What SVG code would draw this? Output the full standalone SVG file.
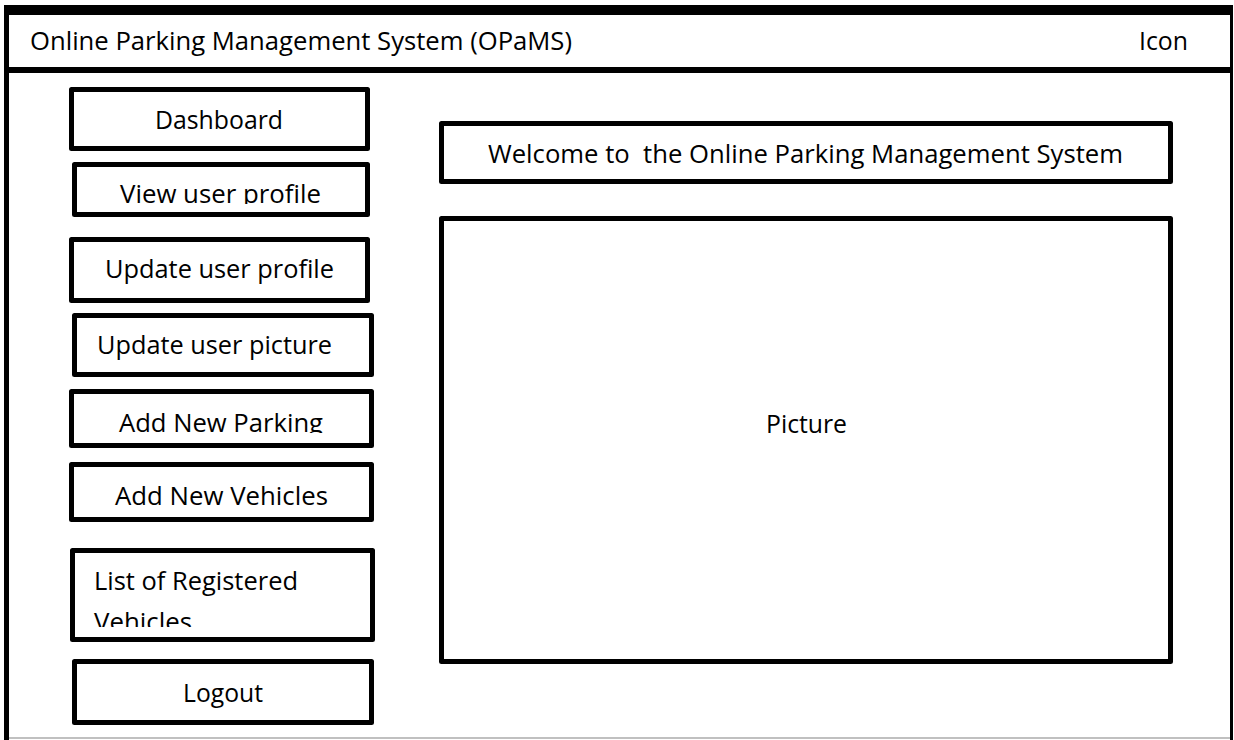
<svg xmlns="http://www.w3.org/2000/svg" width="1234" height="740" viewBox="0 0 1234 740">
<style>
.box{fill:#fff;stroke:#000;stroke-width:5;stroke-linejoin:round}
.t{font-family:"Open Sans","Noto Sans","Liberation Sans",sans-serif;font-size:25px;fill:#000;white-space:pre}
</style>
<defs>
<clipPath id="c1"><rect x="70" y="160" width="300" height="44"/></clipPath>
<clipPath id="c2"><rect x="70" y="390" width="300" height="43"/></clipPath>
<clipPath id="c3"><rect x="70" y="550" width="300" height="77"/></clipPath>
</defs>
<rect x="0" y="0" width="1234" height="740" fill="#fff"/>
<g id="frame">
<rect x="4" y="5" width="1229" height="10" fill="#000"/>
<rect x="4" y="5" width="5" height="735" fill="#000"/>
<rect x="1230" y="5" width="3" height="735" fill="#000"/>
<rect x="4" y="67" width="1229" height="6" fill="#000"/>
<rect x="9" y="737" width="1221" height="2" fill="#c0c0c0"/>
<text class="t" x="30" y="50" textLength="542" lengthAdjust="spacingAndGlyphs">Online Parking Management System (OPaMS)</text>
<text class="t" x="1139" y="50" textLength="49" lengthAdjust="spacingAndGlyphs">Icon</text>
</g>
<g id="dashboard"><rect class="box" x="71.5" y="89.5" width="296" height="59"/><text class="t" x="155" y="129" textLength="128" lengthAdjust="spacingAndGlyphs">Dashboard</text></g>
<g id="view-profile"><rect class="box" x="74.5" y="164.5" width="293" height="50"/><text class="t" x="120" y="203" clip-path="url(#c1)" textLength="201" lengthAdjust="spacingAndGlyphs">View user profile</text></g>
<g id="update-profile"><rect class="box" x="71.5" y="239.5" width="296" height="61"/><text class="t" x="105" y="278" textLength="229" lengthAdjust="spacingAndGlyphs">Update user profile</text></g>
<g id="update-picture"><rect class="box" x="74.5" y="315.5" width="297" height="59"/><text class="t" x="97" y="354" textLength="235" lengthAdjust="spacingAndGlyphs">Update user picture</text></g>
<g id="add-parking"><rect class="box" x="71.5" y="391.5" width="300" height="54"/><text class="t" x="119" y="432" clip-path="url(#c2)" textLength="204" lengthAdjust="spacingAndGlyphs">Add New Parking</text></g>
<g id="add-vehicles"><rect class="box" x="71.5" y="464.5" width="300" height="55"/><text class="t" x="115" y="505" textLength="213" lengthAdjust="spacingAndGlyphs">Add New Vehicles</text></g>
<g id="list-vehicles"><rect class="box" x="72.5" y="550.5" width="300" height="89"/><text class="t" x="94" y="590" textLength="204" lengthAdjust="spacingAndGlyphs">List of Registered</text><text class="t" x="94" y="631" clip-path="url(#c3)" textLength="98" lengthAdjust="spacingAndGlyphs">Vehicles</text></g>
<g id="logout"><rect class="box" x="74.5" y="661.5" width="297" height="61"/><text class="t" x="183" y="702" textLength="80" lengthAdjust="spacingAndGlyphs">Logout</text></g>
<g id="welcome"><rect class="box" x="441.5" y="123.5" width="729" height="58"/><text class="t" x="488" y="163" xml:space="preserve" textLength="635" lengthAdjust="spacingAndGlyphs">Welcome to  the Online Parking Management System</text></g>
<g id="picture"><rect class="box" x="441.5" y="218.5" width="729" height="443"/><text class="t" x="766" y="433" textLength="81" lengthAdjust="spacingAndGlyphs">Picture</text></g>
<g id="connectors"></g>
</svg>
